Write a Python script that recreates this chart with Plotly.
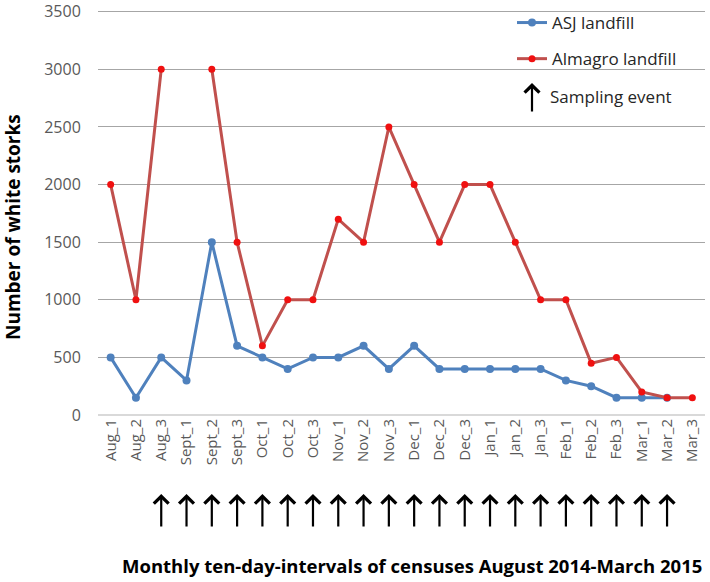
import plotly.graph_objects as go

categories = ["Aug_1", "Aug_2", "Aug_3", "Sept_1", "Sept_2", "Sept_3",
              "Oct_1", "Oct_2", "Oct_3", "Nov_1", "Nov_2", "Nov_3",
              "Dec_1", "Dec_2", "Dec_3", "Jan_1", "Jan_2", "Jan_3",
              "Feb_1", "Feb_2", "Feb_3", "Mar_1", "Mar_2", "Mar_3"]
asj = [500, 150, 500, 300, 1500, 600, 500, 400, 500, 500, 600, 400,
       600, 400, 400, 400, 400, 400, 300, 250, 150, 150, 150, None]
almagro = [2000, 1000, 3000, None, 3000, 1500, 600, 1000, 1000, 1700, 1500, 2500,
           2000, 1500, 2000, 2000, 1500, 1000, 1000, 450, 500, 200, 150, 150]
sampling = ["Aug_3", "Sept_1", "Sept_2", "Sept_3", "Oct_1", "Oct_2", "Oct_3",
            "Nov_1", "Nov_2", "Nov_3", "Dec_1", "Dec_2", "Dec_3", "Jan_1",
            "Jan_2", "Jan_3", "Feb_1", "Feb_2", "Feb_3", "Mar_1", "Mar_2"]
y_ticks = [0, 500, 1000, 1500, 2000, 2500, 3000, 3500]

FONT = "Open Sans"
W_PLOT = 607.0
H_PLOT = 405.0


def px_x(sx):
    return (sx - 98) / W_PLOT


def px_y(sy):
    return (415 - sy) / H_PLOT


fig = go.Figure()
fig.add_trace(go.Scatter(
    x=categories, y=asj, name="ASJ landfill", mode="lines+markers",
    line=dict(color="#4F81BD", width=3),
    marker=dict(color="#4F81BD", size=8),
    legendgroup="a"))
fig.add_trace(go.Scatter(
    x=categories, y=almagro, name="Almagro landfill", mode="lines+markers",
    line=dict(color="#C0504D", width=3),
    marker=dict(color="#F01010", size=7),
    connectgaps=False, legendgroup="b"))

arrow_style = dict(showarrow=True, arrowhead=4, arrowsize=1.3, arrowwidth=2.2,
                   arrowcolor="black", ax=0, text="")
for c in sampling:
    fig.add_annotation(x=c, xref="x", y=px_y(494), yref="paper", ay=34, **arrow_style)

# legend entry for sampling event
fig.add_annotation(x=px_x(532), xref="paper", y=px_y(83), yref="paper", ay=30,
                   **arrow_style)
fig.add_annotation(x=px_x(548), xref="paper", y=px_y(97), yref="paper",
                   text="Sampling event", showarrow=False, xanchor="left", yanchor="middle",
                   font=dict(family=FONT, size=17, color="#262626"))

fig.add_annotation(x=px_x(412), xref="paper", y=px_y(565), yref="paper",
                   text="<b>Monthly ten-day-intervals of censuses August 2014-March 2015</b>",
                   showarrow=False, xanchor="center", yanchor="middle",
                   font=dict(family=FONT, size=18.5, color="black"))

fig.add_annotation(x=0, xref="paper", xshift=-85, y=px_y(227), yref="paper",
                   text="<b>Number of white storks</b>", textangle=-90,
                   showarrow=False, xanchor="center", yanchor="middle", borderpad=0,
                   font=dict(family=FONT, size=19, color="black"))

fig.update_layout(
    width=710, height=582,
    margin=dict(l=98, r=5, t=10, b=167),
    paper_bgcolor="white", plot_bgcolor="white",
    font=dict(family=FONT, color="#595959"),
    showlegend=True,
    legend=dict(x=px_x(512), y=1 + 5 / H_PLOT, xanchor="left", yanchor="top",
                font=dict(family=FONT, size=17, color="#262626"),
                tracegroupgap=11, bgcolor="rgba(0,0,0,0)"),
    xaxis=dict(type="category", categoryorder="array", categoryarray=categories,
               tickangle=-90, tickfont=dict(size=15, color="#595959"),
               showgrid=False, showline=False, ticks="", range=[-0.5, 23.5],
               automargin=False),
    yaxis=dict(range=[0, 3515], tickvals=y_ticks, showgrid=True,
               gridcolor="#A6A6A6", gridwidth=1, zeroline=True,
               zerolinecolor="#D9D9D9", showline=False,
               tickfont=dict(size=16, color="#595959"), ticks="outside",
               ticklen=13, tickcolor="rgba(0,0,0,0)",
               ticklabeloverflow="allow", automargin=False),
)

fig.write_html("out.html", config={"displayModeBar": False},
               post_script="document.body.style.margin='0px';")
